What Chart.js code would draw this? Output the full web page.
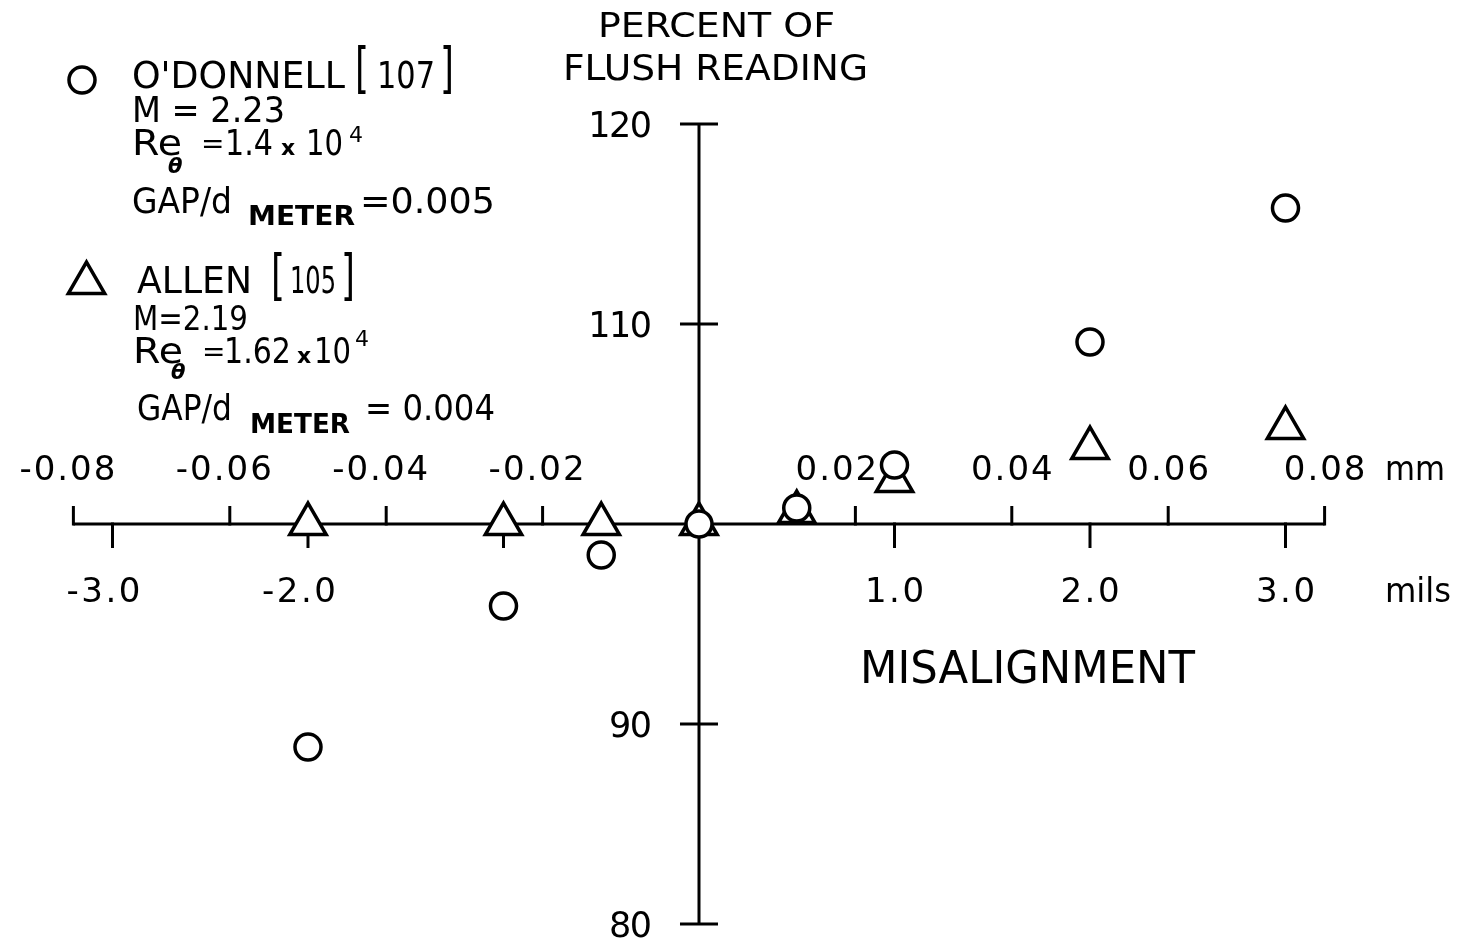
<!DOCTYPE html>
<html>
<head>
<meta charset="utf-8">
<script src="https://cdn.jsdelivr.net/npm/chart.js@4.4.0/dist/chart.umd.min.js"></script>
<style>
  html, body { margin: 0; padding: 0; background: #fff; }
  #wrap { width: 1460px; height: 942px; }
</style>
</head>
<body>
<div id="wrap"><canvas id="chart" width="1460" height="942"></canvas></div>
<script>
// data (x in mils, y in percent of flush reading)
const odonnellMils = [-2, -1, -0.5, 0, 0.5, 1, 2, 3];
const odonnellPct = [88.85, 95.9, 98.45, 100, 100.8, 102.95, 109.1, 115.8];
const allenMils = [-2, -1, -0.5, 0, 0.5, 1, 2, 3];
const allenPct = [100, 100, 100, 100, 100.6, 102.15, 103.8, 104.8];

const percentTicks = [120, 110, 90, 80];
const percentLabels = ['120', '110', '90', '80'];
const milsTicks = [-3, -2, -1, 1, 2, 3];
const milsLabels = ['-3.0', '-2.0', '', '1.0', '2.0', '3.0'];
const mmTicks = [-0.08, -0.06, -0.04, -0.02, 0.02, 0.04, 0.06, 0.08];
const mmLabels = ['-0.08', '-0.06', '-0.04', '-0.02', '0.02', '0.04', '0.06', '0.08'];

const MM_PER_MIL = 0.025; // as drawn on the original scale
const X_MIN = -3.5754, X_MAX = 3.8926;
const Y_MIN = 79.1, Y_MAX = 126.2;

const FONT = '"DejaVu Sans", "Liberation Sans", sans-serif';

// draws text; o.width squeezes/stretches it horizontally to that width
function drawText(ctx, str, x, y, o) {
  ctx.save();
  ctx.font = (o.style || 'normal') + ' ' + (o.weight || 'normal') + ' ' + o.size + 'px ' + FONT;
  ctx.letterSpacing = '0px';
  const w = ctx.measureText(str).width;
  let sx = 1, ls = o.ls || 0;
  if (o.width) { sx = o.width / w; ls = 0; }
  const total = w * sx + ls * (str.length - 1);
  let left = x;
  if (o.align === 'center') left = x - total / 2;
  else if (o.align === 'right') left = x - total;
  ctx.letterSpacing = ls + 'px';
  ctx.textAlign = 'left';
  ctx.textBaseline = 'alphabetic';
  ctx.fillStyle = '#000';
  ctx.translate(left, y);
  ctx.scale(sx, 1);
  ctx.fillText(str, 0, 0);
  ctx.restore();
}

function legendCircle(ctx, x, y, r) {
  ctx.beginPath();
  ctx.arc(x, y, r, 0, Math.PI * 2);
  ctx.fillStyle = '#fff';
  ctx.fill();
  ctx.stroke();
}

function legendTriangle(ctx, x, y, r) {
  ctx.beginPath();
  for (let k = 0; k < 3; k++) {
    const a = k * Math.PI * 2 / 3;
    const px = x + Math.sin(a) * r, py = y - Math.cos(a) * r;
    if (k === 0) ctx.moveTo(px, py); else ctx.lineTo(px, py);
  }
  ctx.closePath();
  ctx.fillStyle = '#fff';
  ctx.fill();
  ctx.stroke();
}

const crossAxes = {
  id: 'crossAxes',
  beforeDatasetsDraw(chart) {
    const { ctx } = chart;
    const x = chart.scales.x, y = chart.scales.y;
    const x0 = x.getPixelForValue(0);
    const y100 = y.getPixelForValue(100);
    ctx.save();
    ctx.strokeStyle = '#000';
    ctx.lineWidth = 3;
    ctx.lineCap = 'butt';

    // vertical axis
    ctx.beginPath();
    ctx.moveTo(x0, y.getPixelForValue(percentTicks[0]));
    ctx.lineTo(x0, y.getPixelForValue(percentTicks[percentTicks.length - 1]));
    ctx.stroke();
    percentTicks.forEach((v, i) => {
      const py = y.getPixelForValue(v);
      ctx.beginPath();
      ctx.moveTo(x0 - 19, py);
      ctx.lineTo(x0 + 19, py);
      ctx.stroke();
      drawText(ctx, percentLabels[i], x0 - 47, py + 12.5, { size: 35, align: 'right', ls: -1.5 });
    });

    // horizontal axis, mm ticks up, mils ticks down
    const xl = x.getPixelForValue(mmTicks[0] / MM_PER_MIL);
    const xr = x.getPixelForValue(mmTicks[mmTicks.length - 1] / MM_PER_MIL);
    ctx.beginPath();
    ctx.moveTo(xl, y100);
    ctx.lineTo(xr, y100);
    ctx.stroke();
    mmTicks.forEach((v, i) => {
      const px = x.getPixelForValue(v / MM_PER_MIL);
      ctx.beginPath();
      ctx.moveTo(px, y100 + 1.5);
      ctx.lineTo(px, y100 - 18);
      ctx.stroke();
      let shift = v === 0.02 ? -19 : 0;
      if (v < 0) shift -= 6;
      drawText(ctx, mmLabels[i], px + shift, y100 - 44, { size: 34, align: 'center', ls: 2 });
    });
    milsTicks.forEach((v, i) => {
      const px = x.getPixelForValue(v);
      ctx.beginPath();
      ctx.moveTo(px, y100 - 1.5);
      ctx.lineTo(px, y100 + 24);
      ctx.stroke();
      if (milsLabels[i]) drawText(ctx, milsLabels[i], px - (v < 0 ? 9 : 0), y100 + 78, { size: 34, align: 'center', ls: 2.5 });
    });
    drawText(ctx, 'mm', 1385, 480, { size: 33, width: 60 });
    drawText(ctx, 'mils', 1385, 602, { size: 33, width: 66 });

    // axis titles
    drawText(ctx, 'PERCENT OF', 598, 37, { size: 33, width: 237 });
    drawText(ctx, 'FLUSH READING', 563, 80, { size: 35, width: 305 });
    drawText(ctx, 'MISALIGNMENT', 860, 683, { size: 45, width: 335 });

    // key
    ctx.lineWidth = 3.5;
    legendCircle(ctx, 82, 80, 13);
    drawText(ctx, "O'DONNELL", 132, 88, { size: 37, width: 213 });
    drawText(ctx, '[', 355, 87, { size: 56, width: 14 });
    drawText(ctx, '107', 377, 88, { size: 37, width: 58 });
    drawText(ctx, ']', 440, 87, { size: 56, width: 14 });
    drawText(ctx, 'M = 2.23', 132, 122, { size: 35, width: 153 });
    drawText(ctx, 'Re', 132, 155, { size: 35, width: 50 });
    drawText(ctx, '\u03b8', 168, 173, { size: 21, weight: 'bold', style: 'italic' });
    drawText(ctx, '=', 201, 153, { size: 28 });
    drawText(ctx, '1.4', 225, 155, { size: 35, width: 48 });
    drawText(ctx, 'x', 281, 155, { size: 22, weight: 'bold' });
    drawText(ctx, '10', 306, 155, { size: 35, width: 37 });
    drawText(ctx, '4', 349, 142, { size: 22 });
    drawText(ctx, 'GAP/d', 132, 213, { size: 36, width: 100 });
    drawText(ctx, 'METER', 248, 225, { size: 27, weight: 'bold', width: 107 });
    drawText(ctx, '=0.005', 360, 213, { size: 36, width: 135 });

    legendTriangle(ctx, 86.5, 283, 21);
    drawText(ctx, 'ALLEN', 137, 293, { size: 37, width: 115 });
    drawText(ctx, '[', 271, 294, { size: 56, width: 14 });
    drawText(ctx, '105', 290, 293, { size: 37, width: 46 });
    drawText(ctx, ']', 341, 294, { size: 56, width: 14 });
    drawText(ctx, 'M=2.19', 133, 330, { size: 34, width: 115 });
    drawText(ctx, 'Re', 133, 363, { size: 35, width: 50 });
    drawText(ctx, '\u03b8', 171, 379, { size: 21, weight: 'bold', style: 'italic' });
    drawText(ctx, '=', 202, 361, { size: 28 });
    drawText(ctx, '1.62', 224, 363, { size: 35, width: 67 });
    drawText(ctx, 'x', 297, 363, { size: 22, weight: 'bold' });
    drawText(ctx, '10', 314, 363, { size: 35, width: 37 });
    drawText(ctx, '4', 355, 346, { size: 22 });
    drawText(ctx, 'GAP/d', 137, 420, { size: 36, width: 95 });
    drawText(ctx, 'METER', 250, 433, { size: 27, weight: 'bold', width: 100 });
    drawText(ctx, '= 0.004', 365, 420, { size: 36, width: 130 });

    ctx.restore();
  }
};

const chart = new Chart(document.getElementById('chart'), {
  type: 'scatter',
  data: {
    datasets: [
      {
        label: "O'DONNELL [107]",
        data: odonnellMils.map((m, i) => ({ x: m, y: odonnellPct[i] })),
        pointStyle: 'circle',
        pointRadius: 13,
        pointBorderWidth: 3.5,
        pointBorderColor: '#000',
        pointBackgroundColor: '#fff'
      },
      {
        label: 'ALLEN [105]',
        data: allenMils.map((m, i) => ({ x: m, y: allenPct[i] })),
        pointStyle: 'triangle',
        pointRadius: 21,
        pointBorderWidth: 3.5,
        pointBorderColor: '#000',
        pointBackgroundColor: '#fff'
      }
    ]
  },
  options: {
    responsive: false,
    animation: false,
    events: [],
    layout: { autoPadding: false, padding: 0 },
    plugins: { legend: { display: false }, tooltip: { enabled: false } },
    scales: {
      x: { type: 'linear', min: X_MIN, max: X_MAX, display: false },
      y: { type: 'linear', min: Y_MIN, max: Y_MAX, display: false }
    }
  },
  plugins: [crossAxes]
});
</script>
</body>
</html>
